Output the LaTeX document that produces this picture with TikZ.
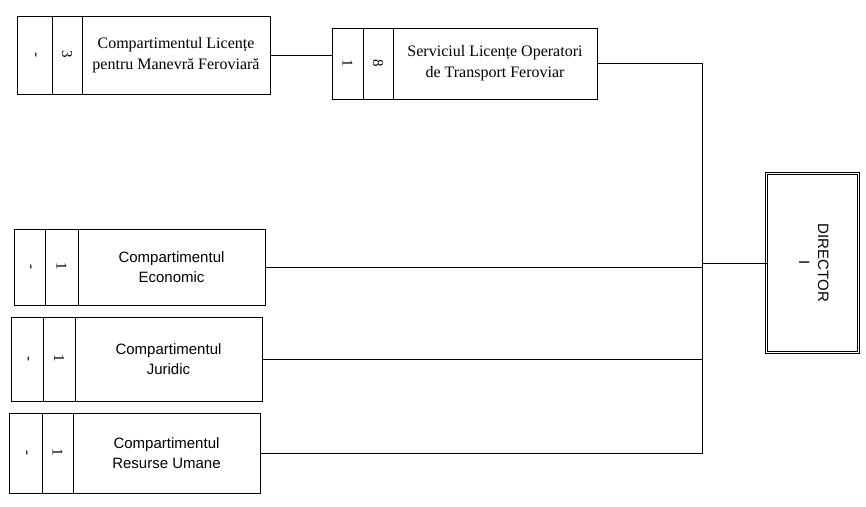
\documentclass[tikz,border=0pt]{standalone}
\usepackage{fontspec}
\setmainfont{Liberation Serif}
\setsansfont{Liberation Sans}
\newcommand{\rotnum}[1]{\rotatebox[origin=c]{-90}{#1}}
\begin{document}
\begin{tikzpicture}[x=1pt,y=-1pt,
  box/.style={draw, line width=0.9pt, inner sep=0pt, outer sep=0pt, anchor=north west},
  cellbox/.style={box, font=\fontsize{15}{16}\selectfont},
  mainser/.style={box, align=center, font=\fontsize{16}{21}\selectfont},
  mainsans/.style={box, align=center, font=\sffamily\fontsize{15}{20}\selectfont},
  conn/.style={line width=0.8pt},
  dirbox/.style={draw, double, double distance=1.6pt, line width=0.9pt, inner sep=0pt, outer sep=0pt,
     minimum width=92pt, minimum height=179pt, font=\sffamily\fontsize{15}{19}\selectfont}]
\useasboundingbox (0,0) rectangle (866,506);
% Box A
\node[cellbox, minimum height=78pt, minimum width=35pt] (A1) at (17,16) {\rotnum{-}};
\node[cellbox, minimum height=78pt, minimum width=30pt] (A2) at (52,16) {\rotnum{3}};
\node[mainser, minimum width=188pt, minimum height=78pt] (A) at (82,16) {Compartimentul Licențe\\pentru Manevră Feroviară};
% Box B
\node[cellbox, minimum height=71pt, minimum width=31pt] (B1) at (332,28) {\rotnum{1}};
\node[cellbox, minimum height=71pt, minimum width=30pt] (B2) at (363,28) {\rotnum{8}};
\node[mainser, minimum width=204pt, minimum height=71pt] (B) at (393,28) {Serviciul Licențe Operatori\\de Transport Feroviar};
% Economic
\node[cellbox, minimum height=76pt, minimum width=31pt] (E1) at (14,229) {\rotnum{-}};
\node[cellbox, minimum height=76pt, minimum width=33pt] (E2) at (45,229) {\rotnum{1}};
\node[mainsans, minimum width=187pt, minimum height=76pt] (E) at (78,229) {Compartimentul\\Economic};
% Juridic
\node[cellbox, minimum height=84pt, minimum width=32pt] (J1) at (11,317) {\rotnum{-}};
\node[cellbox, minimum height=84pt, minimum width=32pt] (J2) at (43,317) {\rotnum{1}};
\node[mainsans, minimum width=187pt, minimum height=84pt] (J) at (75,317) {Compartimentul\\Juridic};
% Resurse Umane
\node[cellbox, minimum height=80pt, minimum width=33pt] (R1) at (9,413) {\rotnum{-}};
\node[cellbox, minimum height=80pt, minimum width=31pt] (R2) at (42,413) {\rotnum{1}};
\node[mainsans, minimum width=187pt, minimum height=80pt] (R) at (73,413) {Compartimentul\\Resurse Umane};
% Director
\node[dirbox] (D) at (812.5,263) {\rotatebox[origin=c]{-90}{\begin{tabular}{@{}c@{}}DIRECTOR\\I\end{tabular}}};
% connectors
\coordinate (bustop) at (702,0 |- B.east);
\coordinate (busbot) at (702,0 |- R.east);
\draw[conn] (A.east) -- (A.east -| B1.west);
\draw[conn] (B.east) -- (bustop) -- (busbot) -- (R.east);
\draw[conn] (E.east) -- (E.east -| bustop);
\draw[conn] (J.east) -- (J.east -| bustop);
\draw[conn] (D.west) -- (D.west -| bustop);
\end{tikzpicture}
\end{document}
